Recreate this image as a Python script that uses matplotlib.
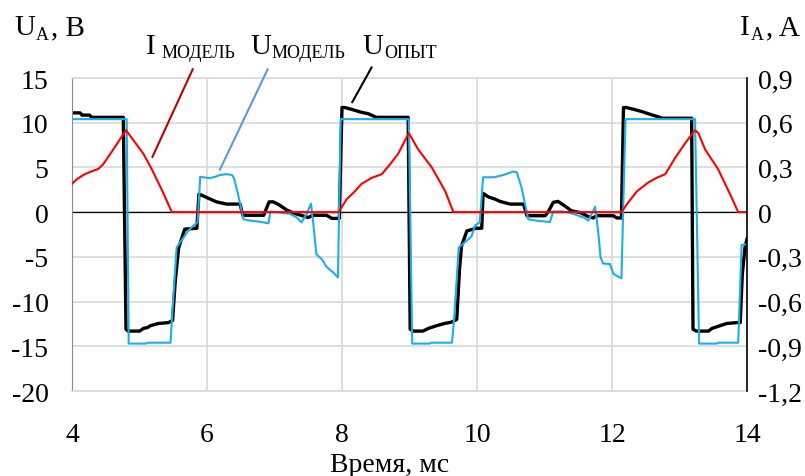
import matplotlib
matplotlib.use('Agg')
import matplotlib.pyplot as plt

plt.rcParams['font.family'] = ['Liberation Serif', 'DejaVu Serif']

# U опыт (black), time in ms, voltage in V
t_exp = [4.00, 4.12, 4.15, 4.26, 4.29, 4.76, 4.80, 4.83, 5.00, 5.06, 5.12, 5.16, 5.28, 5.43, 5.49,
         5.53, 5.58, 5.67, 5.85, 5.88, 5.92, 6.02, 6.14, 6.29, 6.49, 6.53, 6.84, 6.92, 6.98, 7.06,
         7.18, 7.28, 7.50, 7.57, 7.77, 7.85, 7.96, 8.00,
         8.04, 8.14, 8.27, 8.39, 8.51, 8.98, 9.01, 9.06, 9.20, 9.28, 9.40, 9.52, 9.62, 9.70, 9.74,
         9.77, 9.85, 9.99, 10.07, 10.09, 10.17, 10.27, 10.34, 10.49, 10.69, 10.74, 11.01, 11.06,
         11.13, 11.20, 11.30, 11.40, 11.53, 11.65, 11.72, 11.77, 12.02, 12.07, 12.14, 12.17,
         12.21, 12.32, 12.44, 12.56, 12.69, 12.74, 13.18, 13.20, 13.25, 13.43, 13.48, 13.60, 13.70,
         13.85, 13.90, 13.93, 13.97, 14.00]
u_exp = [11.1, 11.1, 10.85, 10.85, 10.6, 10.6, -13.1, -13.3, -13.3, -13.0, -12.9, -12.7, -12.45, -12.35, -12.1,
         -7.7, -4.0, -1.9, -1.8, 2.0, 1.9, 1.55, 1.15, 0.9, 0.9, -0.35, -0.35, 1.15, 1.15, 0.85,
         0.25, -0.1, -0.6, -0.35, -0.35, -0.7, -0.7, 11.7,
         11.7, 11.5, 11.2, 11.0, 10.6, 10.6, -13.1, -13.3, -13.3, -13.0, -12.7, -12.45, -12.3, -12.0, -6.5,
         -3.8, -2.1, -1.8, -1.8, 2.1, 1.7, 1.45, 1.2, 0.9, 0.9, -0.4, -0.4, 0.1,
         1.1, 1.2, 0.7, 0.15, -0.05, -0.5, -0.65, -0.4, -0.4, -0.65, -0.65, 11.7,
         11.7, 11.5, 11.25, 10.95, 10.65, 10.5, 10.5, -13.1, -13.3, -13.3, -13.0, -12.7, -12.45,
         -12.35, -12.35, -7.0, -3.95, -3.0]

# U модель (blue)
t_mod = [4.00, 4.81, 4.84, 5.10, 5.12, 5.46, 5.48, 5.55, 5.60, 5.72, 5.80, 5.86, 5.90, 6.04, 6.12,
         6.19, 6.29, 6.37, 6.40, 6.46, 6.54, 6.64, 6.81, 6.91, 6.94, 7.08, 7.23, 7.33, 7.40, 7.48,
         7.54, 7.57, 7.62, 7.70, 7.77, 7.87, 7.94, 7.98,
         8.99, 9.04, 9.30, 9.32, 9.63, 9.66, 9.73, 9.80, 9.92, 9.97, 10.04, 10.09, 10.25, 10.39,
         10.54, 10.59, 10.66, 10.76, 10.88, 11.08, 11.13, 11.27, 11.43, 11.58, 11.65, 11.70, 11.75,
         11.80, 11.83, 11.87, 11.97, 12.02, 12.09, 12.14, 12.20,
         13.23, 13.29, 13.55, 13.57, 13.87, 13.92, 14.00]
u_mod = [10.4, 10.4, -14.7, -14.7, -14.6, -14.6, -12.0, -3.95, -3.4, -2.1, -1.5, -1.15, 3.95, 3.8, 3.95,
         4.15, 4.25, 4.15, 3.8, 2.0, -0.8, -0.95, -1.1, -1.25, 0.08, -0.05, -0.2, -0.6, -1.15, -0.15,
         0.95, -0.95, -4.7, -5.25, -6.1, -6.75, -7.3, 10.4,
         10.4, -14.7, -14.7, -14.6, -14.6, -12.0, -3.95, -3.5, -2.7, -1.5, -1.15, 3.9, 3.9, 4.15,
         4.55, 4.45, 2.75, -0.8, -0.95, -1.1, 0.08, 0.08, -0.2, -0.6, -0.95, -0.2, 0.6,
         -2.5, -5.05, -5.75, -5.8, -6.9, -7.2, -7.4, 10.4,
         10.4, -14.7, -14.7, -14.6, -14.6, -3.65, -3.6]

# I модель (red), current in A
t_cur = [4.00, 4.07, 4.17, 4.27, 4.39, 4.46, 4.64, 4.80, 4.93, 5.06, 5.18, 5.33, 5.48,
         7.95, 8.07, 8.17, 8.29, 8.44, 8.59, 8.71, 8.83, 8.99, 9.13, 9.33, 9.53, 9.65,
         12.14, 12.24, 12.37, 12.54, 12.66, 12.79, 12.93, 13.08, 13.23, 13.28, 13.38, 13.57, 13.75, 13.87, 14.00]
i_cur = [0.19, 0.22, 0.25, 0.27, 0.29, 0.32, 0.44, 0.55, 0.47, 0.39, 0.29, 0.15, 0.0,
         0.0, 0.087, 0.13, 0.19, 0.23, 0.255, 0.32, 0.39, 0.53, 0.42, 0.30, 0.14, 0.0,
         0.0, 0.065, 0.14, 0.2, 0.23, 0.255, 0.36, 0.46, 0.55, 0.53, 0.42, 0.29, 0.12, 0.0, 0.0]

x_ticks = [4, 6, 8, 10, 12, 14]
u_ticks = [-20, -15, -10, -5, 0, 5, 10, 15]
i_ticks = [-1.2, -0.9, -0.6, -0.3, 0, 0.3, 0.6, 0.9]
i_labels = ['-1,2', '-0,9', '-0,6', '-0,3', '0', '0,3', '0,6', '0,9']

W, H = 805, 477
fig = plt.figure(figsize=(W / 100, H / 100), dpi=100)
ax = fig.add_axes([72 / W, 1 - 392 / H, 675 / W, 313 / H])


def px(x, y):
    return x / W, 1 - y / H


grid_col = '#d9d9d9'
ax.set_xlim(4, 14)
ax.set_ylim(-20, 15)
ax.set_xticks(x_ticks)
ax.set_xticklabels([str(v) for v in x_ticks])
ax.set_yticks(u_ticks)
ax.set_yticklabels([str(v) for v in u_ticks])
ax.grid(True, color=grid_col, linewidth=1.2)
ax.set_axisbelow(True)
ax.tick_params(length=0, labelsize=20)
ax.tick_params(axis='y', pad=17)
ax.tick_params(axis='x', pad=22)
for s in ['top', 'bottom']:
    ax.spines[s].set_color(grid_col)
    ax.spines[s].set_linewidth(1.2)
ax.spines['left'].set_color('#8c8c8c')
ax.spines['right'].set_visible(False)
ax.axhline(0, color='black', linewidth=0.9)

ax.plot(t_exp, u_exp, color='black', linewidth=2.4)
ax.plot(t_mod, u_mod, color='#17b0ec', linewidth=1.5)

ax2 = ax.twinx()
ax2.set_ylim(-1.2, 0.9)
ax2.set_yticks(i_ticks)
ax2.set_yticklabels(i_labels)
ax2.tick_params(length=0, labelsize=20, pad=8)
for s in ['top', 'bottom', 'left']:
    ax2.spines[s].set_visible(False)
ax2.spines['right'].set_color('black')
ax2.spines['right'].set_linewidth(1.2)
ax2.plot(t_cur, i_cur, color='#ff0000', linewidth=1.5)

ax.set_xlabel('Время, мс', fontsize=20)
ax.xaxis.set_label_coords(0.471, -0.195)

# leader lines
ax.annotate('', xy=(5.19, 6.15), xytext=(5.79, 16.0), annotation_clip=False,
            arrowprops=dict(arrowstyle='-', color='#c00000', linewidth=1.5, shrinkA=0, shrinkB=0))
ax.annotate('', xy=(6.19, 4.73), xytext=(6.90, 16.0), annotation_clip=False,
            arrowprops=dict(arrowstyle='-', color='#5b9bd5', linewidth=1.5, shrinkA=0, shrinkB=0))
ax.annotate('', xy=(8.15, 12.27), xytext=(8.44, 16.2), annotation_clip=False,
            arrowprops=dict(arrowstyle='-', color='black', linewidth=1.5, shrinkA=0, shrinkB=0))

# series labels
big, small = 21, 13
fig.text(*px(146, 54), 'I', fontsize=big, va='baseline')
fig.text(*px(162, 58), 'МОДЕЛЬ', fontsize=small, va='baseline')
fig.text(*px(250, 54), 'U', fontsize=big, va='baseline')
fig.text(*px(272, 58), 'МОДЕЛЬ', fontsize=small, va='baseline')
fig.text(*px(362, 54), 'U', fontsize=big, va='baseline')
fig.text(*px(384, 58), 'ОПЫТ', fontsize=small, va='baseline')

# axis titles
fig.text(*px(14, 35), 'U', fontsize=big, va='baseline')
fig.text(*px(36, 40), 'A', fontsize=small, va='baseline')
fig.text(*px(51, 35), ', B', fontsize=big, va='baseline')
fig.text(*px(740, 35), 'I', fontsize=big, va='baseline')
fig.text(*px(751, 40), 'A', fontsize=small, va='baseline')
fig.text(*px(766, 35), ', A', fontsize=big, va='baseline')

fig.savefig('out.png', dpi=100)
